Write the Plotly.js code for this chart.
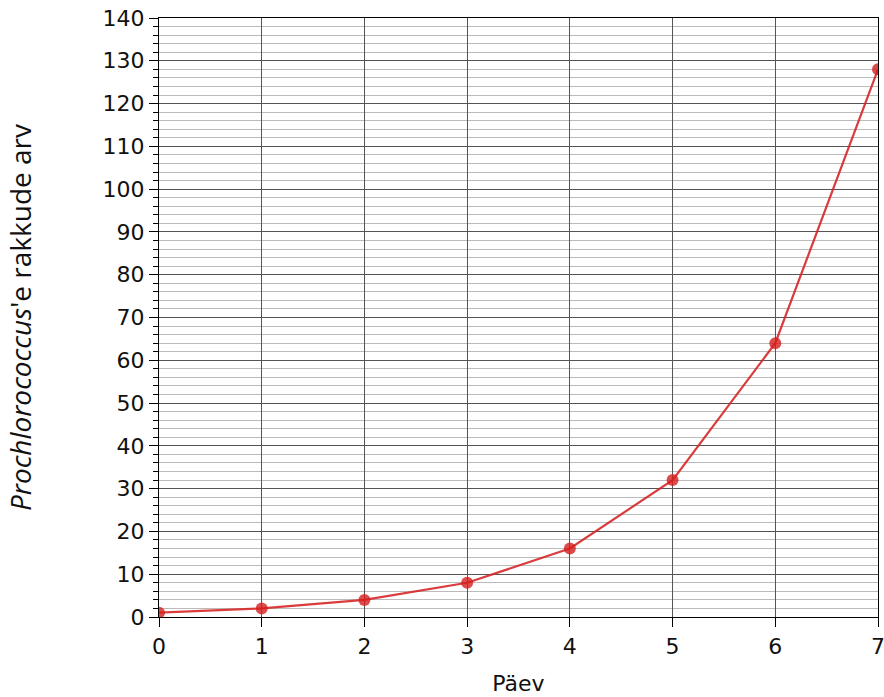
<!DOCTYPE html>
<html><head><meta charset="utf-8">
<script src="https://cdn.plot.ly/plotly-3.0.1.min.js"></script>
<style>body{margin:0;background:#fff}</style>
</head><body><div id="chart" style="width:884px;height:697px"></div>
<script>
const days = [0, 1, 2, 3, 4, 5, 6, 7];
const cells = [1, 2, 4, 8, 16, 32, 64, 128];
const xTitle = 'Päev';
const yTitle = "<i>Prochlorococcus</i>'e rakkude arv";

const trace = {
  x: days, y: cells, type: 'scatter', mode: 'lines+markers',
  line: {color: 'rgba(214,39,40,0.9)', width: 2.2},
  marker: {color: 'rgba(214,30,30,0.8)', size: 12},
  showlegend: false
};
const tickFont = {family: 'DejaVu Sans', size: 22, color: '#111'};
const layout = {
  width: 884, height: 697,
  margin: {l: 159, r: 6, t: 18, b: 80},
  paper_bgcolor: '#fff', plot_bgcolor: '#fff',
  xaxis: {
    range: [0, 7], dtick: 1, tick0: 0,
    showgrid: true, gridcolor: '#555', gridwidth: 1,
    ticks: 'outside', ticklen: 9, tickwidth: 1.3, tickcolor: '#000',
    showline: true, linecolor: '#000', linewidth: 1.3, mirror: true,
    zeroline: false, tickfont: tickFont, ticklabeloverflow: 'allow',
    title: {text: xTitle, font: {family: 'DejaVu Sans', size: 22, color: '#111'}, standoff: 18}
  },
  yaxis: {
    range: [0, 140], dtick: 10, tick0: 0,
    showgrid: true, gridcolor: '#555', gridwidth: 1,
    ticks: 'outside', ticklen: 9, tickwidth: 1.3, tickcolor: '#000',
    showline: true, linecolor: '#000', linewidth: 1.3, mirror: true,
    zeroline: false, tickfont: tickFont,
    minor: {dtick: 2, showgrid: true, gridcolor: '#bbb', gridwidth: 1, ticks: 'outside', ticklen: 5, tickcolor: '#000'},
    title: {text: yTitle, font: {family: 'Open Sans', size: 28, color: '#111'}, standoff: 62}
  }
};
Plotly.newPlot('chart', [trace], layout, {displayModeBar: false});
</script></body></html>
